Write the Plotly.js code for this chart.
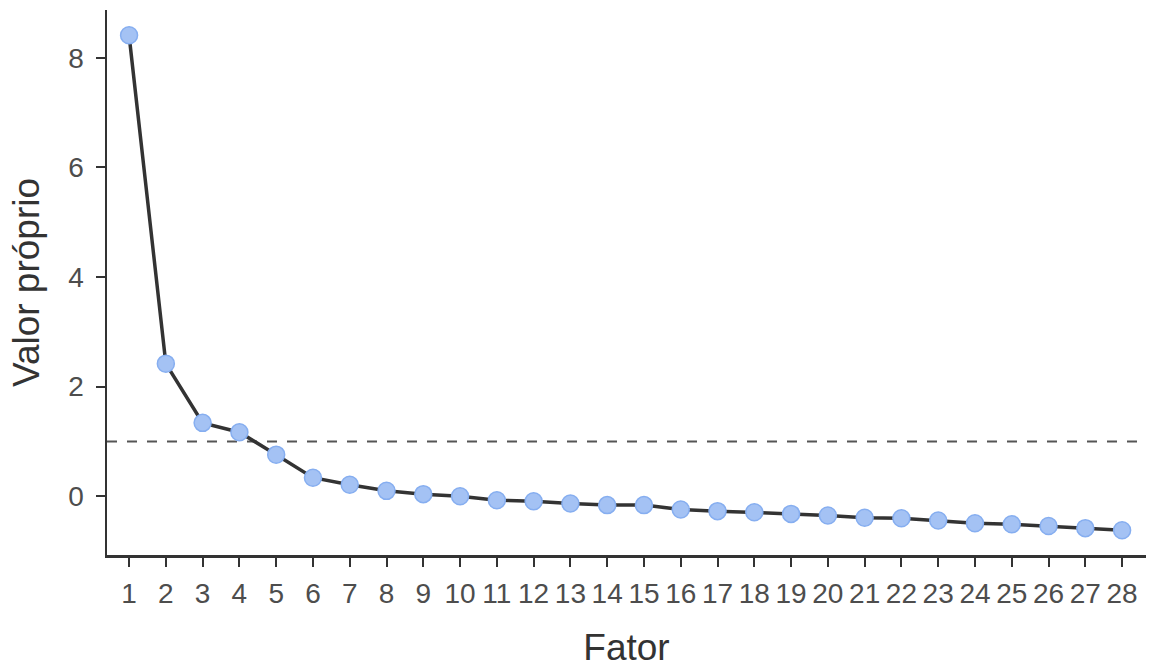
<!DOCTYPE html>
<html>
<head>
<meta charset="utf-8">
<script src="https://cdn.plot.ly/plotly-3.0.1.min.js"></script>
<style>html,body{margin:0;padding:0;background:#fff;}#chart{width:1150px;height:668px;}</style>
</head>
<body>
<div id="chart"></div>
<script>
const fatores = [1,2,3,4,5,6,7,8,9,10,11,12,13,14,15,16,17,18,19,20,21,22,23,24,25,26,27,28];
const valoresProprios = [8.41,2.42,1.34,1.17,0.76,0.34,0.21,0.10,0.04,0.00,-0.07,-0.09,-0.13,-0.16,-0.16,-0.24,-0.27,-0.29,-0.32,-0.35,-0.39,-0.40,-0.44,-0.49,-0.51,-0.54,-0.58,-0.62];
const limiteKaiser = 1;
const yTicks = [0,2,4,6,8];

const trace = {
  x: fatores,
  y: valoresProprios,
  type: 'scatter',
  mode: 'lines+markers',
  line: {color: '#333333', width: 3.5},
  marker: {size: 17, color: '#a4c2f4', line: {color: '#86aef0', width: 1.5}},
  hoverinfo: 'x+y'
};

const layout = {
  width: 1150, height: 668,
  margin: {l: 107, r: 4, t: 10, b: 113},
  paper_bgcolor: '#ffffff', plot_bgcolor: '#ffffff',
  font: {family: 'Liberation Sans, Arial, sans-serif', color: '#4d4d4d'},
  showlegend: false,
  xaxis: {
    range: [0.4, 28.65],
    tickmode: 'array', tickvals: fatores, ticktext: fatores.map(String),
    showgrid: false, zeroline: false,
    showline: true, linecolor: '#333333', linewidth: 2.5,
    ticks: 'outside', ticklen: 9, tickwidth: 2, tickcolor: '#333333',
    tickfont: {size: 28, color: '#4d4d4d'},
    ticklabelstandoff: 3,
    automargin: false,
    title: {text: 'Fator', font: {size: 37, color: '#333333'}, standoff: 31}
  },
  yaxis: {
    range: [-1.07, 8.87],
    tickmode: 'array', tickvals: yTicks, ticktext: yTicks.map(String),
    showgrid: false, zeroline: false,
    showline: true, linecolor: '#333333', linewidth: 2.5,
    ticks: 'outside', ticklen: 9, tickwidth: 2, tickcolor: '#333333',
    tickfont: {size: 28, color: '#4d4d4d'},
    ticklabelstandoff: 6,
    automargin: false,
    title: {text: 'Valor próprio', font: {size: 37, color: '#333333'}, standoff: 18}
  },
  shapes: [{
    type: 'line', xref: 'paper', x0: 0, x1: 1, yref: 'y', y0: limiteKaiser, y1: limiteKaiser,
    line: {color: '#555555', width: 2, dash: '10px,10px'}, layer: 'below'
  }]
};

Plotly.newPlot('chart', [trace], layout, {displayModeBar: false, staticPlot: true});
</script>
</body>
</html>
